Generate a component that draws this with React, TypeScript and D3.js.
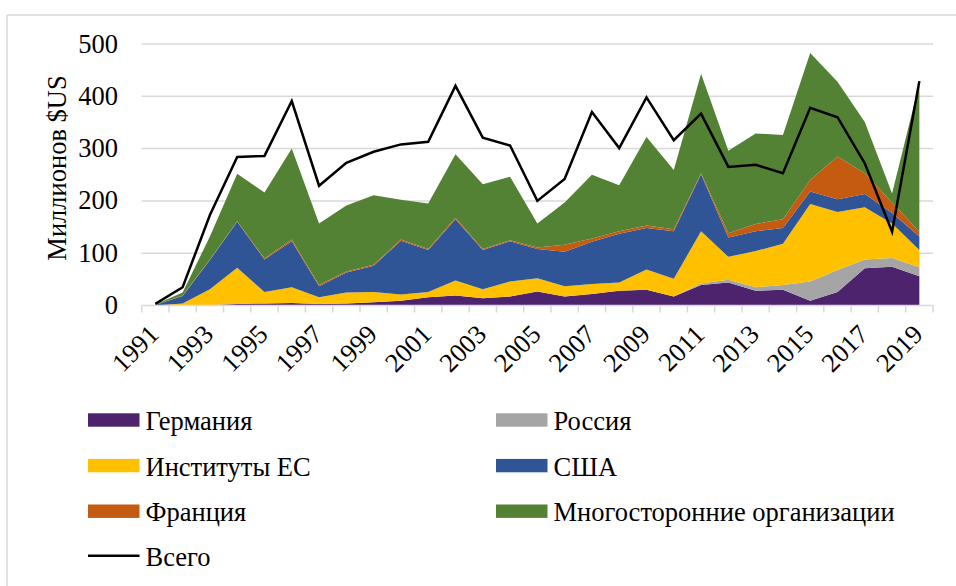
import React from "react";
import * as d3 from "d3";

const years = d3.range(1991, 2020).map(String);
const germany = [0,0,1,3,4,5,3,4,6,9,16,19,14,17,27,17,22,28,30,17,39,44,28,30,9,26,71,74,56];
const russia = [0,0,0,0,0,0,0,0,0,0,0,0,0,0,0,0,0,0,0,0,3,5,7,9,37,42,17,17,17];
const euInst = [0,4,30,69,22,30,13,21,20,12,10,29,17,29,25,20,19,16,39,34,100,44,69,79,148,111,100,66,33];
const usa = [1,14,56,88,62,88,21,38,50,103,80,117,75,77,56,66,81,93,79,91,109,37,38,30,24,24,25,20,26];
const france = [0,1,1,1,2,3,2,2,2,2,2,3,2,2,3,13,6,5,5,4,2,8,14,17,22,82,40,20,9];
const multilateral = [1,6,44,91,126,174,118,126,133,76,87,121,124,121,46,81,122,88,169,113,190,158,173,161,243,143,98,17,284];
const total = [3,35,173,284,286,391,229,273,294,308,313,420,321,306,200,242,370,301,398,316,367,265,269,253,378,360,272,141,429];

const seriesNames = ["Германия", "Россия", "Институты ЕС", "США", "Франция", "Многосторонние организации"];
const seriesValues = [germany, russia, euInst, usa, france, multilateral];
const seriesColors = ["#4E236E", "#A5A5A5", "#FFC000", "#2F5597", "#C55A11", "#548235"];
const totalName = "Всего";
const yTicks = [0, 100, 200, 300, 400, 500];
const yTitle = "Миллионов $US";

const FONT = "'Liberation Serif', 'Times New Roman', serif";
const GRID = "#D9D9D9";
const FS = 26.5;

export default function App() {
  const W = 956, H = 586;
  const x = d3.scaleBand<string>().domain(years).range([141.7, 933]).padding(0);
  const cx = (yr: string) => (x(yr) as number) + x.bandwidth() / 2;
  const y = d3.scaleLinear().domain([0, 500]).range([305.5, 44]);

  const table = years.map((yr, i) => {
    const row: any = { year: yr };
    seriesNames.forEach((n, k) => (row[n] = seriesValues[k][i]));
    return row;
  });
  const stacked = d3.stack<any>().keys(seriesNames)(table);
  const area = d3
    .area<any>()
    .x((d) => cx(d.data.year))
    .y0((d) => y(d[0]))
    .y1((d) => y(d[1]));
  const line = d3
    .line<number>()
    .x((_, i) => cx(years[i]))
    .y((d) => y(d));

  const tickEdges = years.map((yr) => x(yr) as number).concat([933]);

  const legendItems = [
    { name: seriesNames[0], color: seriesColors[0], col: 0, row: 0 },
    { name: seriesNames[1], color: seriesColors[1], col: 1, row: 0 },
    { name: seriesNames[2], color: seriesColors[2], col: 0, row: 1 },
    { name: seriesNames[3], color: seriesColors[3], col: 1, row: 1 },
    { name: seriesNames[4], color: seriesColors[4], col: 0, row: 2 },
    { name: seriesNames[5], color: seriesColors[5], col: 1, row: 2 },
  ];
  const legX = [88, 496];
  const legY = (r: number) => 420 + r * 45.6;

  return (
    <svg
      width={W}
      height={H}
      style={{ position: "absolute", left: 0, top: 0, background: "#fff" }}
      fontFamily={FONT}
    >
      <rect x={0} y={0} width={W} height={H} fill="#fff" />
      {/* frame */}
      <line x1={7} y1={15} x2={W} y2={15} stroke={GRID} strokeWidth={1.5} />
      <line x1={7} y1={15} x2={7} y2={H} stroke={GRID} strokeWidth={1.5} />

      {/* gridlines */}
      {yTicks.slice(1).map((t) => (
        <line key={t} x1={141.7} x2={933} y1={y(t)} y2={y(t)} stroke={GRID} strokeWidth={1.5} />
      ))}

      {/* areas */}
      {stacked.map((s, k) => (
        <path key={seriesNames[k]} d={area(s) as string} fill={seriesColors[k]} />
      ))}

      {/* axis */}
      <line x1={141.7} x2={933} y1={y(0)} y2={y(0)} stroke={GRID} strokeWidth={1.5} />
      {tickEdges.map((e, i) => (
        <line key={i} x1={e} x2={e} y1={y(0)} y2={y(0) + 7} stroke={GRID} strokeWidth={1.5} />
      ))}

      {/* total line */}
      <path d={line(total) as string} fill="none" stroke="#000" strokeWidth={2.5} strokeLinejoin="miter" />

      {/* y tick labels */}
      {yTicks.map((t) => (
        <text key={t} x={118} y={y(t) + 8.5} textAnchor="end" fontSize={FS} fill="#000">
          {t}
        </text>
      ))}

      {/* x tick labels */}
      {years
        .filter((_, i) => i % 2 === 0)
        .map((yr) => (
          <text
            key={yr}
            transform={`translate(${cx(yr) + 5},${336}) rotate(-45)`}
            textAnchor="end"
            fontSize={FS}
            fill="#000"
          >
            {yr}
          </text>
        ))}

      {/* y title */}
      <text transform={`translate(66,168) rotate(-90)`} textAnchor="middle" fontSize={FS} fill="#000">
        {yTitle}
      </text>

      {/* legend */}
      {legendItems.map((it) => (
        <g key={it.name}>
          <rect x={legX[it.col]} y={legY(it.row) - 6.7} width={51.5} height={13.4} fill={it.color} />
          <text x={legX[it.col] + 57.5} y={legY(it.row) + 10} fontSize={FS} fill="#000">
            {it.name}
          </text>
        </g>
      ))}
      <line x1={88} x2={139.5} y1={legY(3) - 1} y2={legY(3) - 1} stroke="#000" strokeWidth={2.5} />
      <text x={145.5} y={legY(3) + 9} fontSize={FS} fill="#000">
        {totalName}
      </text>
    </svg>
  );
}
